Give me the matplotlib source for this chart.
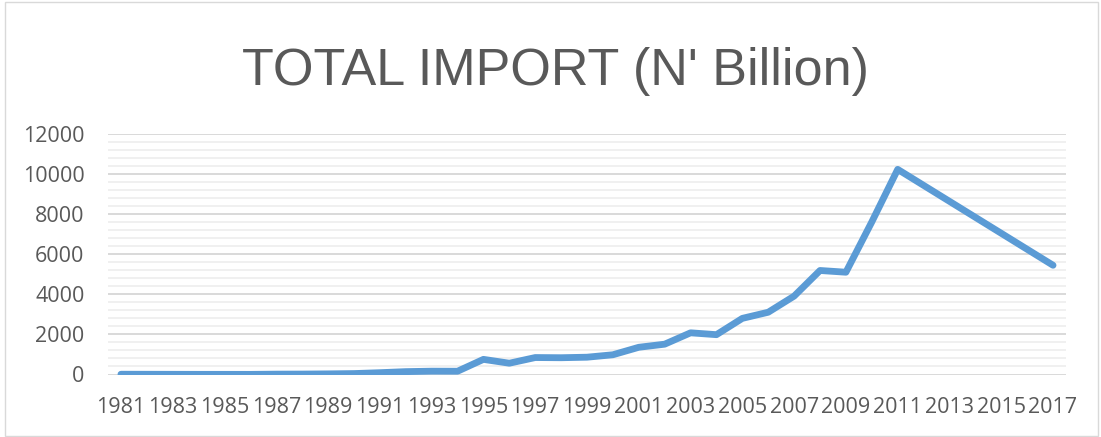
import numpy as np
import matplotlib.pyplot as plt
import matplotlib.patches as mpatches
from matplotlib.ticker import MultipleLocator

# Jahre 1981-2017, für 2012-2016 keine Werte (Linie verbindet Lücke)
years = list(range(1981, 2018))
imports = [13, 11, 9, 7, 7, 6, 18, 21, 31, 46, 90, 143, 166, 163,
           755, 563, 846, 837, 863, 985, 1358, 1513, 2080, 1987,
           2801, 3107, 3912, 5190, 5103, 7614, 10235,
           None, None, None, None, None, 5450]
xtick_years = list(range(1981, 2018, 2))
yticks = [0, 2000, 4000, 6000, 8000, 10000, 12000]

TXT = "#595959"
BLUE = "#5B9BD5"

fig = plt.figure(figsize=(11.01, 4.37), dpi=100)
ax = fig.add_axes([108/1101, 1 - 374.5/437, (1066 - 108)/1101, (374.5 - 134)/437])

x = np.array(years, dtype=float)
y = np.array([np.nan if v is None else v for v in imports], dtype=float)
ok = ~np.isnan(y)
ax.plot(x[ok], y[ok], color=BLUE, lw=4.9, solid_capstyle="round",
        solid_joinstyle="round", zorder=3)

ax.set_xlim(1980.5, 2017.5)
ax.set_ylim(0, 12000)
ax.set_yticks(yticks)
ax.set_yticklabels([str(v) for v in yticks])
ax.yaxis.set_minor_locator(MultipleLocator(400))
ax.set_xticks(xtick_years)
ax.set_xticklabels([str(v) for v in xtick_years])

ax.grid(True, which="major", axis="y", color="#d9d9d9", lw=1.4, zorder=1)
ax.grid(True, which="minor", axis="y", color="#f0f0f0", lw=1.4, zorder=0)
ax.tick_params(axis="both", which="both", length=0)
ax.tick_params(axis="y", pad=17, labelsize=15.5, labelcolor=TXT)
ax.tick_params(axis="x", pad=16, labelsize=15.5, labelcolor=TXT)
for lab in ax.get_xticklabels() + ax.get_yticklabels():
    lab.set_family("Open Sans")
for s in ax.spines.values():
    s.set_visible(False)

fig.text(0.5045, 1 - 84.5/437, "TOTAL IMPORT (N' Billion)", ha="center",
         va="baseline", fontsize=37.5, color=TXT, family="Liberation Sans")

# Rahmen um das Diagramm
fig.patches.append(mpatches.Rectangle((5/1101, 1.5/437), 1093/1101, 434/437,
                                      transform=fig.transFigure, fill=False,
                                      ec="#d9d9d9", lw=1.0))

fig.savefig("out.png", dpi=100, facecolor="white")
